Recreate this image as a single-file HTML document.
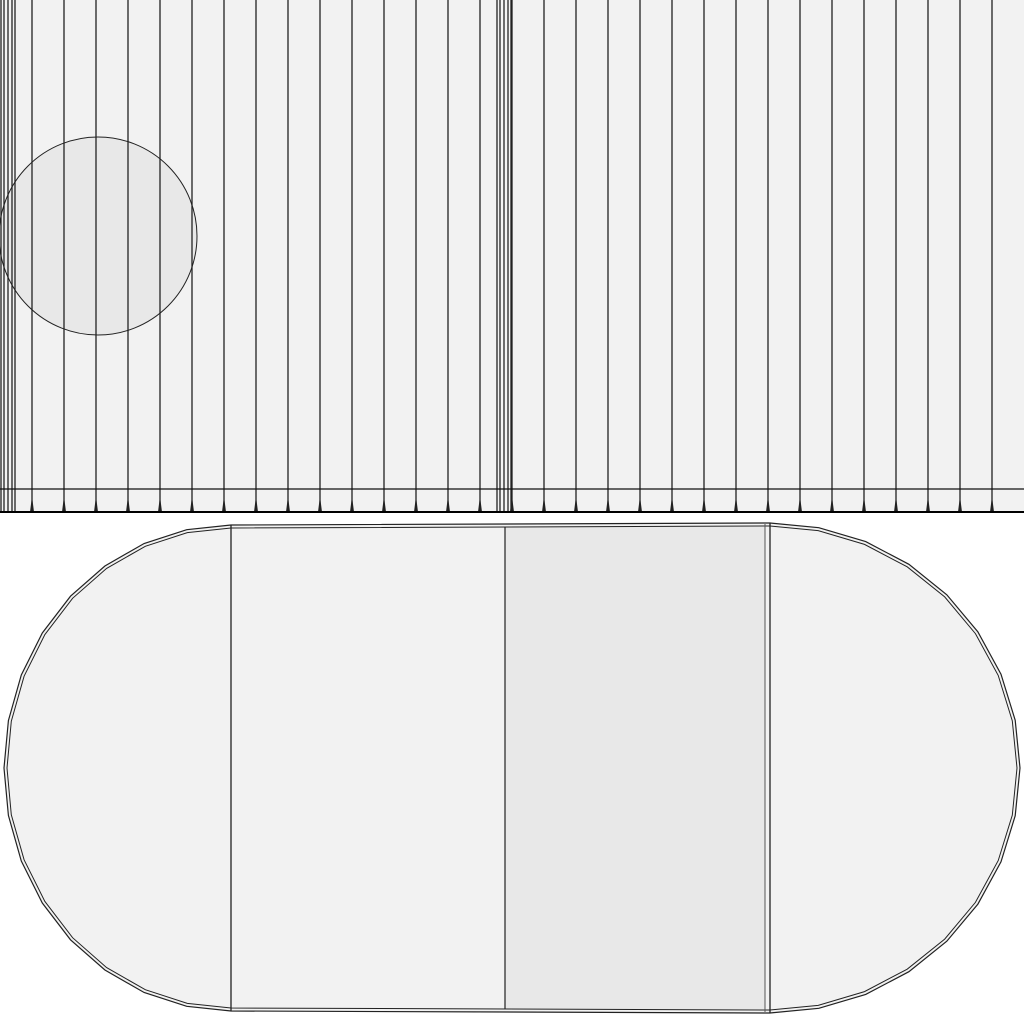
<!DOCTYPE html>
<html><head><meta charset="utf-8"><style>html,body{margin:0;padding:0;background:#fff}svg{display:block}</style></head>
<body>
<svg id="uv" width="1024" height="1024" viewBox="0 0 1024 1024" xmlns="http://www.w3.org/2000/svg">
<rect x="0" y="0" width="1024" height="512" fill="#f2f2f2"/>
<circle cx="98" cy="236" r="99" fill="#e8e8e8" stroke="#222" stroke-width="1"/>
<g id="strips" stroke="#222" stroke-width="1.3"></g>
<line x1="0" y1="489" x2="1024" y2="489" stroke="#111" stroke-width="1.3"/>
<line x1="0" y1="512" x2="1024" y2="512" stroke="#000" stroke-width="2"/>
<g id="cap"></g>
</svg>
<script>
const xs=[1,4,8,12,15,497,500,504,508,511];
for(let x=32;x<1024;x+=32)xs.push(x);
const g=document.getElementById('strips');
const NS='http://www.w3.org/2000/svg';
xs.forEach(x=>{
 const l=document.createElementNS(NS,'line');
 
 
 l.setAttribute('x1',x);l.setAttribute('x2',x);l.setAttribute('y1',0);l.setAttribute('y2',512);
 g.appendChild(l);
 if(x%32===0){const p=document.createElementNS(NS,'path');
 
 
 p.setAttribute('d',`M${x-2} 512 L${x} 496 L${x+2} 512Z`);p.setAttribute('fill','#222');p.setAttribute('stroke','none');g.appendChild(p);}
});
function arc(cx,cy,rx,ry,a0,a1,n){const pts=[];for(let i=0;i<=n;i++){const a=(a0+(a1-a0)*i/n)*Math.PI/180;pts.push([cx+rx*Math.cos(a),cy-ry*Math.sin(a)]);}return pts;}
function shape(off){
 const L=arc(231,768,227-off,243-off,90,270,16);
 const R=arc(770,768,250-off,245-off,-90,90,16);
 return L.concat(R).map(p=>p[0].toFixed(1)+','+p[1].toFixed(1)).join(' ');
}
const cap=document.getElementById('cap');
cap.innerHTML=`
<polygon points="${shape(0)}" fill="#f2f2f2" stroke="#222" stroke-width="1.2"/>
<rect x="505" y="527" width="260" height="482" fill="#e8e8e8"/>
<polygon points="${shape(3)}" fill="none" stroke="#222" stroke-width="1"/>
<line x1="231" y1="525" x2="231" y2="1011" stroke="#222" stroke-width="1.3"/>
<line x1="505" y1="527" x2="505" y2="1009" stroke="#222" stroke-width="1.2"/>
<line x1="765" y1="524" x2="765" y2="1012" stroke="#555" stroke-width="1"/>
<line x1="770" y1="523" x2="770" y2="1013" stroke="#222" stroke-width="1.3"/>`;
</script>
</body></html>
